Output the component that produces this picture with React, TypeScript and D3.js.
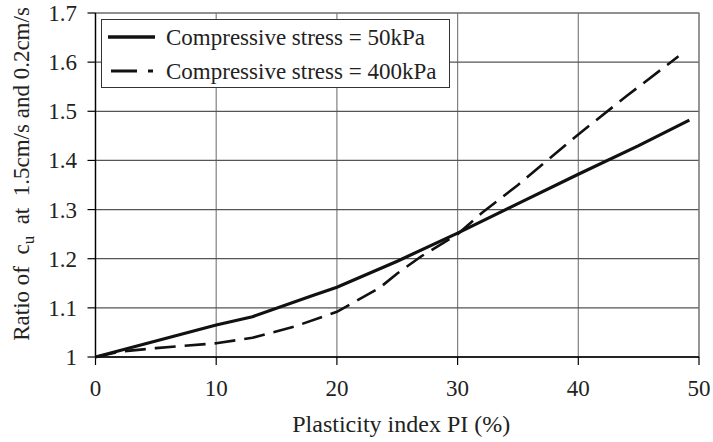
import React from "react";
import * as d3 from "d3";

const xTicks = [0, 10, 20, 30, 40, 50];
const yTicks = [1, 1.1, 1.2, 1.3, 1.4, 1.5, 1.6, 1.7];
const yTickLabels = ["1", "1.1", "1.2", "1.3", "1.4", "1.5", "1.6", "1.7"];

const pi50 = [0, 10, 13, 18, 20, 25, 30, 35, 40, 45, 49.2];
const ratio50 = [1.0, 1.065, 1.082, 1.125, 1.142, 1.195, 1.252, 1.312, 1.372, 1.43, 1.482];

const pi400 = [0, 2, 5, 10, 13, 16.5, 20, 23.5, 25, 27, 30, 32, 35, 40, 44, 48.3];
const ratio400 = [1.0, 1.011, 1.018, 1.028, 1.039, 1.062, 1.092, 1.14, 1.17, 1.205, 1.25, 1.293, 1.35, 1.453, 1.531, 1.612];

const seriesNames = ["Compressive stress = 50kPa", "Compressive stress = 400kPa"];
const xTitle = "Plasticity index PI (%)";

const W = 713, H = 442;
const left = 95.5, right = 699, top = 13, bottom = 357;
const FONT = '"Liberation Serif"';
const FS = 23;

export default function App() {
  const x = d3.scaleLinear().domain([0, 50]).range([left, right]);
  const y = d3.scaleLinear().domain([1, 1.7]).range([bottom, top]);
  const line = d3.line<[number, number]>().x(d => x(d[0])).y(d => y(d[1]));
  const d50 = line(pi50.map((p, i) => [p, ratio50[i]]) as [number, number][]) || "";
  const d400 = line(pi400.map((p, i) => [p, ratio400[i]]) as [number, number][]) || "";
  const ts = { fontFamily: FONT, whiteSpace: "pre" as const };

  return (
    <svg width={W} height={H} style={{ position: "absolute", left: 0, top: 0, background: "#fff" }}>
      <rect x={0} y={0} width={W} height={H} fill="#fff" />
      {xTicks.map(t => (
        <line key={"vx" + t} x1={x(t)} x2={x(t)} y1={top} y2={bottom} stroke="#808080" strokeWidth={1.2} />
      ))}
      {yTicks.map(t => (
        <line key={"hy" + t} x1={left} x2={right} y1={y(t)} y2={y(t)} stroke="#555" strokeWidth={1.2} />
      ))}
      <rect x={left} y={top} width={right - left} height={bottom - top} fill="none" stroke="#808080" strokeWidth={1.2} />
      <line x1={left} x2={left} y1={top} y2={bottom} stroke="#000" strokeWidth={1.3} />
      <line x1={left} x2={right} y1={bottom} y2={bottom} stroke="#000" strokeWidth={1.3} />
      {yTicks.map((t, i) => (
        <g key={"yt" + t}>
          <line x1={left - 8} x2={left} y1={y(t)} y2={y(t)} stroke="#000" strokeWidth={1.2} />
          <text style={ts} x={77} y={y(t)} dy="0.35em" textAnchor="end" fontSize={FS} fill="#222">{yTickLabels[i]}</text>
        </g>
      ))}
      {xTicks.map(t => (
        <g key={"xt" + t}>
          <line x1={x(t)} x2={x(t)} y1={bottom} y2={bottom + 8} stroke="#000" strokeWidth={1.2} />
          <text style={ts} x={x(t)} y={396} textAnchor="middle" fontSize={FS} fill="#222">{t}</text>
        </g>
      ))}
      <text style={ts} x={(left + right) / 2 + 4} y={432} textAnchor="middle" fontSize={24} fill="#222">{xTitle}</text>
      <text style={ts} transform={`translate(29, 174) rotate(-90)`} textAnchor="middle" fontSize={FS} fill="#222">
        <tspan>{"Ratio of  c"}</tspan>
        <tspan fontSize={17} dy={5}>u</tspan>
        <tspan dy={-5}>{"  at  1.5cm/s and 0.2cm/s"}</tspan>
      </text>
      <path d={d400} fill="none" stroke="#111" strokeWidth={2.6} strokeDasharray="21,9" />
      <path d={d50} fill="none" stroke="#111" strokeWidth={3.2} />
      <rect x={101.5} y={19.5} width={348} height={68} fill="#fff" stroke="#333" strokeWidth={1} />
      <line x1={108} x2={155} y1={37} y2={37} stroke="#111" strokeWidth={3.4} />
      <line x1={111} x2={153} y1={71} y2={71} stroke="#111" strokeWidth={3} strokeDasharray="26,11,5,50" />
      <text style={ts} x={166} y={37} dy="0.35em" fontSize={FS} fill="#222">{seriesNames[0]}</text>
      <text style={ts} x={166} y={71} dy="0.35em" fontSize={FS} fill="#222">{seriesNames[1]}</text>
    </svg>
  );
}
